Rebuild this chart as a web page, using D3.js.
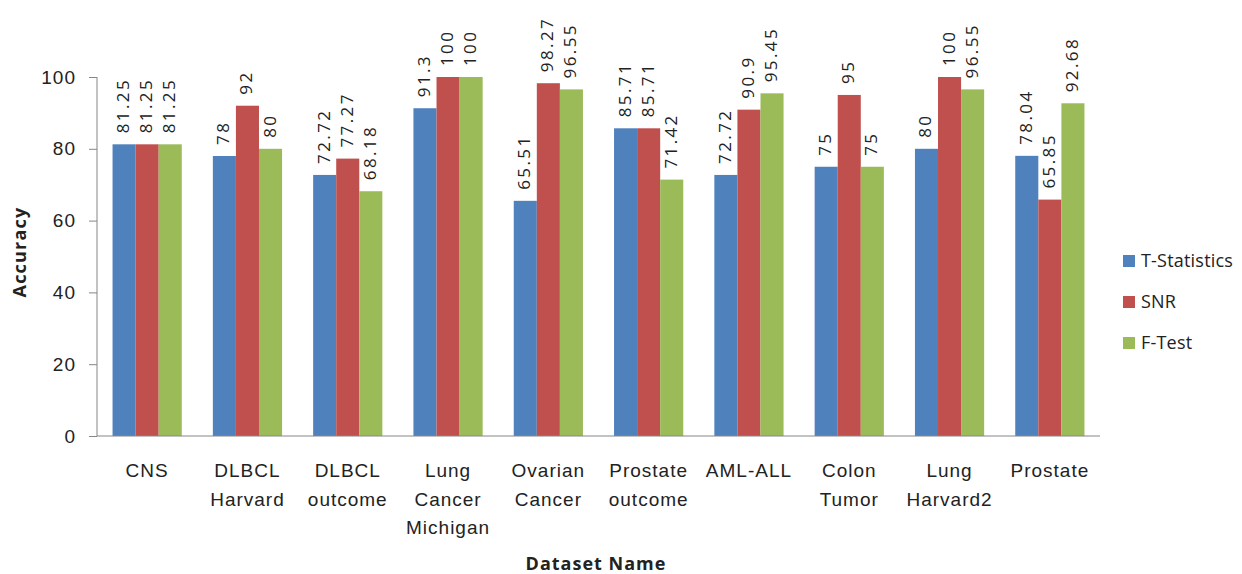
<!DOCTYPE html>
<html>
  <head>
    <meta charset="utf-8" />
    <title>Accuracy by dataset</title>
    <script src="https://d3js.org/d3.v7.min.js"></script>
    <style>
      body {
        margin: 0;
        background: #fff;
        font-family: "Open Sans", "Liberation Sans", sans-serif;
      }
      svg {
        display: block;
      }
      .tick text {
        font-size: 19px;
        letter-spacing: 1px;
        fill: #222;
      }
    </style>
  </head>
  <body>
    <svg width="1242" height="574"></svg>

    <script>
      const categories = [
        ["CNS"],
        ["DLBCL", "Harvard"],
        ["DLBCL", "outcome"],
        ["Lung", "Cancer", "Michigan"],
        ["Ovarian", "Cancer"],
        ["Prostate", "outcome"],
        ["AML-ALL"],
        ["Colon", "Tumor"],
        ["Lung", "Harvard2"],
        ["Prostate"]
      ];
      const seriesNames = ["T-Statistics", "SNR", "F-Test"];
      const tStatistics = [81.25, 78, 72.72, 91.3, 65.51, 85.71, 72.72, 75, 80, 78.04];
      const snr = [81.25, 92, 77.27, 100, 98.27, 85.71, 90.9, 95, 100, 65.85];
      const fTest = [81.25, 80, 68.18, 100, 96.55, 71.42, 95.45, 75, 96.55, 92.68];
      const yTicks = [0, 20, 40, 60, 80, 100];

      const colors = ["#4F81BD", "#C0504D", "#9BBB59"];
      const series = [tStatistics, snr, fTest];

      const svg = d3.select("svg");
      const margin = { top: 77, right: 142, bottom: 138, left: 97 };
      const innerWidth = 1242 - margin.left - margin.right;
      const innerHeight = 574 - margin.top - margin.bottom;

      const g = svg.append("g")
        .attr("transform", `translate(${margin.left}, ${margin.top})`);

      const xScale = d3.scaleBand()
        .domain(d3.range(categories.length))
        .range([0, innerWidth])
        .paddingInner(0.31)
        .paddingOuter(0.155);
      const xInner = d3.scaleBand()
        .domain(d3.range(seriesNames.length))
        .range([0, xScale.bandwidth()]);
      const yScale = d3.scaleLinear().domain([0, 100]).range([innerHeight, 0]);

      // bars + rotated value labels
      series.forEach((values, s) => {
        g.append("g").selectAll("rect")
          .data(values)
          .join("rect")
          .attr("x", (d, i) => xScale(i) + xInner(s))
          .attr("y", d => yScale(d))
          .attr("width", xInner.bandwidth())
          .attr("height", d => innerHeight - yScale(d))
          .attr("fill", colors[s]);

        g.append("g").selectAll("text")
          .data(values)
          .join("text")
          .attr("transform", (d, i) =>
            `translate(${xScale(i) + xInner(s) + xInner.bandwidth() / 2 + 5}, ${yScale(d) - 11}) rotate(-90)`)
          .attr("font-size", 17)
          .attr("letter-spacing", 2.4)
          .attr("fill", "#222")
          .text(d => d);
      });

      // y axis
      const yAxis = g.append("g")
        .call(d3.axisLeft(yScale).tickValues(yTicks).tickSize(8).tickPadding(13));
      yAxis.selectAll("line, path").attr("stroke", "#868686");
      yAxis.select(".domain").attr("d", `M0,0V${innerHeight}`);

      // x axis
      const xAxis = g.append("g")
        .attr("transform", `translate(0, ${innerHeight})`)
        .call(d3.axisBottom(xScale).tickSize(0).tickFormat(""));
      xAxis.select(".domain").attr("stroke", "#868686")
        .attr("d", `M0,0H${innerWidth}`);
      xAxis.selectAll(".tick text").remove();

      xAxis.selectAll(".tick").each(function (d) {
        const t = d3.select(this).append("text")
          .attr("fill", "#222")
          .attr("font-size", 18)
          .attr("letter-spacing", 1.8)
          .attr("text-anchor", "middle");
        categories[d].forEach((line, k) => {
          t.append("tspan").attr("x", 0).attr("y", 41 + k * 28.5).text(line);
        });
      });

      // axis titles
      svg.append("text")
        .attr("transform", `translate(26, ${margin.top + 175}) rotate(-90)`)
        .attr("text-anchor", "middle")
        .attr("font-size", 18)
        .attr("letter-spacing", 1.2)
        .attr("font-weight", "bold")
        .attr("fill", "#222")
        .text("Accuracy");

      svg.append("text")
        .attr("x", 596)
        .attr("y", 570)
        .attr("text-anchor", "middle")
        .attr("font-size", 18)
        .attr("letter-spacing", 1)
        .attr("font-weight", "bold")
        .attr("fill", "#222")
        .text("Dataset Name");

      // legend
      const legend = svg.append("g").attr("transform", "translate(1123, 267)");
      seriesNames.forEach((name, s) => {
        const row = legend.append("g").attr("transform", `translate(0, ${s * 41})`);
        row.append("rect").attr("x", 0).attr("y", -12).attr("width", 12).attr("height", 12)
          .attr("fill", colors[s]);
        row.append("text").attr("x", 18).attr("y", 0)
          .attr("font-size", 18).attr("letter-spacing", 0.2)
          .attr("fill", "#222").text(name);
      });
    </script>
  </body>
</html>
